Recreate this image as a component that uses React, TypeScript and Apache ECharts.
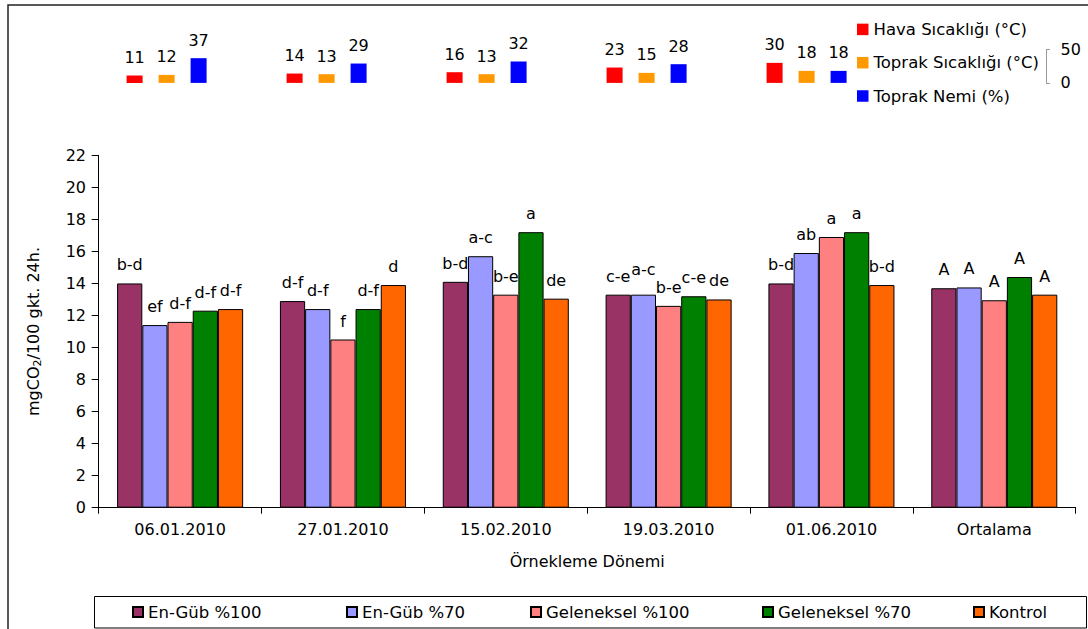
import React, { useEffect, useRef } from 'react';
import * as echarts from 'echarts';

// Main chart data
const categories = ['06.01.2010', '27.01.2010', '15.02.2010', '19.03.2010', '01.06.2010', 'Ortalama'];
const seriesNames = ['En-Güb %100', 'En-Güb %70', 'Geleneksel %100', 'Geleneksel %70', 'Kontrol'];
const enGub100 = [14.0, 12.9, 14.1, 13.3, 14.0, 13.7];
const enGub70 = [11.4, 12.4, 15.7, 13.3, 15.9, 13.75];
const geleneksel100 = [11.6, 10.5, 13.3, 12.6, 16.9, 12.95];
const geleneksel70 = [12.3, 12.4, 17.2, 13.2, 17.2, 14.4];
const kontrol = [12.4, 13.9, 13.05, 13.0, 13.9, 13.3];

const lettersEnGub100 = ['b-d', 'd-f', 'b-d', 'c-e', 'b-d', 'A'];
const lettersEnGub70 = ['ef', 'd-f', 'a-c', 'a-c', 'ab', 'A'];
const lettersGeleneksel100 = ['d-f', 'f', 'b-e', 'b-e', 'a', 'A'];
const lettersGeleneksel70 = ['d-f', 'd-f', 'a', 'c-e', 'a', 'A'];
const lettersKontrol = ['d-f', 'd', 'de', 'de', 'b-d', 'A'];

const yMin = 0;
const yMax = 22;
const yInterval = 2;

// Inset (climate) data
const insetCategories = ['06.01.2010', '27.01.2010', '15.02.2010', '19.03.2010', '01.06.2010'];
const insetNames = ['Hava Sıcaklığı (°C)', 'Toprak Sıcaklığı (°C)', 'Toprak Nemi (%)'];
const havaSicakligi = [11, 14, 16, 23, 30];
const toprakSicakligi = [12, 13, 13, 15, 18];
const toprakNemi = [37, 29, 32, 28, 18];
const insetMin = 0;
const insetMax = 50;

// Styling (kept separate from data)
const FONT = 'DejaVu Sans';
const mainColors = ['#993366', '#9999FF', '#FF8080', '#008000', '#FF6600'];
const insetColors = ['#FF0000', '#FF9900', '#0000FF'];
const legendLefts = [132, 346, 530, 762, 973];
// manually raised label (series index, data index, vertical shift in px)
const labelShifts: Array<[number, number, number]> = [[1, 3, -7]];

export default function App() {
  const ref = useRef<HTMLDivElement>(null);

  useEffect(() => {
    if (!ref.current) return;
    const chart = echarts.init(ref.current, undefined, { renderer: 'svg' });

    const mainValues = [enGub100, enGub70, geleneksel100, geleneksel70, kontrol];
    const mainLetters = [lettersEnGub100, lettersEnGub70, lettersGeleneksel100, lettersGeleneksel70, lettersKontrol];
    const insetValues = [havaSicakligi, toprakSicakligi, toprakNemi];

    const mainSeries = seriesNames.map((name, i) => ({
      name,
      type: 'bar',
      xAxisIndex: 0,
      yAxisIndex: 0,
      data: mainValues[i].map((v, j) => {
        const shift = labelShifts.find((s) => s[0] === i && s[1] === j);
        return shift ? { value: v, label: { offset: [0, shift[2]] } } : v;
      }),
      barGap: '0%',
      barCategoryGap: '22.6%',
      itemStyle: { color: mainColors[i], borderColor: '#000', borderWidth: 1 },
      label: {
        show: true,
        position: 'top',
        distance: 10.5,
        color: '#000',
        fontFamily: FONT,
        fontSize: 16,
        formatter: (p: any) => mainLetters[i][p.dataIndex],
      },
    }));

    const insetSeries = insetNames.map((name, i) => ({
      name,
      type: 'bar',
      xAxisIndex: 1,
      yAxisIndex: 1,
      data: insetValues[i],
      barWidth: 16,
      barGap: '100%',
      itemStyle: { color: insetColors[i] },
      label: {
        show: true,
        position: 'top',
        distance: 10,
        color: '#000',
        fontFamily: FONT,
        fontSize: 16,
      },
    }));

    const mainLegends = seriesNames.map((name, i) => ({
      data: [name],
      left: legendLefts[i],
      top: 603.5,
      padding: 0,
      icon: 'rect',
      itemWidth: 10,
      itemHeight: 10,
      selectedMode: false,
      textStyle: { fontFamily: FONT, fontSize: 16.5, color: '#000', lineHeight: 16 },
    }));

    chart.setOption({
      animation: false,
      backgroundColor: '#fff',
      textStyle: { fontFamily: FONT },
      graphic: [
        {
          type: 'rect',
          shape: { x: 8, y: 5, width: 1200, height: 700 },
          style: { fill: 'none', stroke: '#222', lineWidth: 1.5 },
          silent: true,
        },
        {
          type: 'rect',
          shape: { x: 94.5, y: 596.5, width: 992, height: 31.5 },
          style: { fill: 'none', stroke: '#000', lineWidth: 1 },
          silent: true,
        },
      ],
      legend: [
        ...mainLegends,
        {
          data: insetNames,
          orient: 'vertical',
          left: 857,
          top: 19.4,
          padding: 0,
          icon: 'rect',
          itemWidth: 11.5,
          itemHeight: 11.5,
          itemGap: 13.3,
          selectedMode: false,
          textStyle: { fontFamily: FONT, fontSize: 16.5, color: '#000', lineHeight: 20 },
        },
      ],
      grid: [
        { left: 98.7, top: 155.3, width: 977, height: 352.4, containLabel: false },
        { left: 86.6, top: 49.5, width: 800, height: 33.4, containLabel: false },
      ],
      xAxis: [
        {
          type: 'category',
          gridIndex: 0,
          data: categories,
          axisLine: { show: true, lineStyle: { color: '#000', width: 1 } },
          axisTick: { show: true, length: 6, lineStyle: { color: '#000' } },
          axisLabel: { color: '#000', fontFamily: FONT, fontSize: 16, margin: 14 },
          name: 'Örnekleme Dönemi',
          nameLocation: 'middle',
          nameGap: 46,
          nameTextStyle: { color: '#000', fontFamily: FONT, fontSize: 16 },
        },
        {
          type: 'category',
          gridIndex: 1,
          data: insetCategories,
          show: false,
        },
      ],
      yAxis: [
        {
          type: 'value',
          gridIndex: 0,
          min: yMin,
          max: yMax,
          interval: yInterval,
          splitLine: { show: false },
          axisLine: { show: true, lineStyle: { color: '#000', width: 1 } },
          axisTick: { show: true, length: 7, lineStyle: { color: '#000' } },
          axisLabel: { color: '#000', fontFamily: FONT, fontSize: 16, margin: 12.7 },
          name: 'mgCO{sub|2}/100 gkt. 24h.',
          nameLocation: 'middle',
          nameRotate: 90,
          nameGap: 56,
          nameTextStyle: {
            color: '#000',
            fontFamily: FONT,
            fontSize: 16,
            rich: {
              sub: { fontFamily: FONT, fontSize: 11, color: '#000', verticalAlign: 'bottom', padding: [7, 0, 0, 0] },
            },
          },
        },
        {
          type: 'value',
          gridIndex: 1,
          position: 'right',
          offset: 159.4,
          min: insetMin,
          max: insetMax,
          interval: insetMax,
          splitLine: { show: false },
          axisLine: { show: true, lineStyle: { color: '#999', width: 1 } },
          axisTick: { show: true, length: 4, lineStyle: { color: '#999' } },
          axisLabel: { color: '#000', fontFamily: FONT, fontSize: 16, margin: 14.6 },
        },
      ],
      series: [...mainSeries, ...insetSeries],
    });

    return () => chart.dispose();
  }, []);

  return (
    <div
      ref={ref}
      style={{ position: 'fixed', left: 0, top: 0, width: 1088, height: 629 }}
    />
  );
}
